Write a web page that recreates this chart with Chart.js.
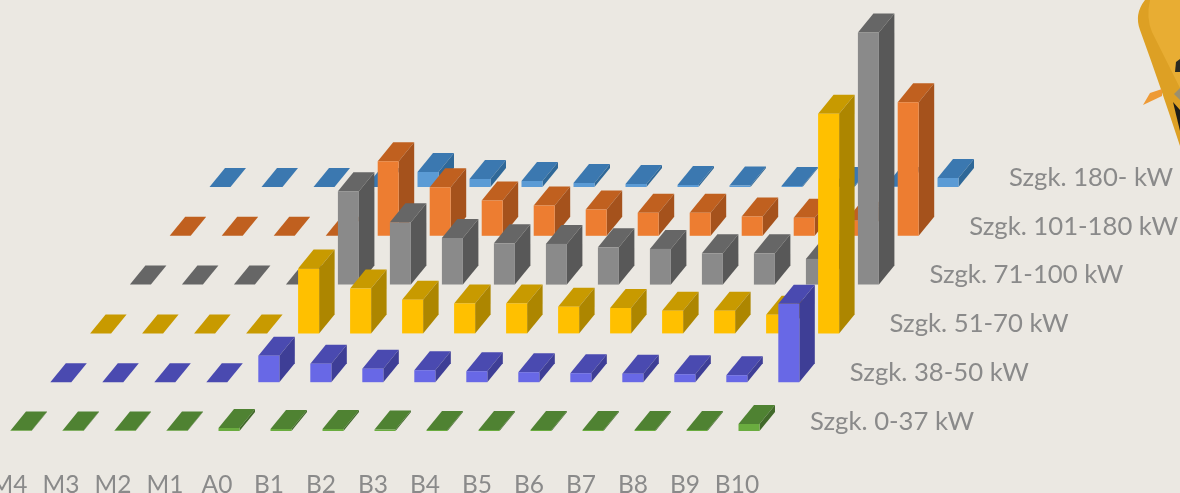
<!DOCTYPE html>
<html>
<head>
<meta charset="utf-8">
<style>
html,body{margin:0;padding:0;width:1180px;height:493px;overflow:hidden;background:#EBE8E2}
#wrap{position:absolute;left:-100px;top:0;width:1400px;height:493px;filter:blur(0.45px)}
</style>
<script src="https://cdn.jsdelivr.net/npm/chart.js@4/dist/chart.umd.min.js"></script>
</head>
<body>
<div id="wrap"><canvas id="c" width="1400" height="493"></canvas></div>
<script>
const categories = ["M4","M3","M2","M1","A0","B1","B2","B3","B4","B5","B6","B7","B8","B9","B10"];
const seriesNames = ["Szgk. 0-37 kW","Szgk. 38-50 kW","Szgk. 51-70 kW","Szgk. 71-100 kW","Szgk. 101-180 kW","Szgk. 180- kW"];
const s0_37    = [0.5,0.5,0.5,0.5,3,2,2,1.5,1,1,1,1,1,1,7];
const s38_50   = [0,0,0,0,26.5,18.5,13.5,12,11,10,9,8.5,8,7,78.5];
const s51_70   = [0,0,0,0,65,45,33.7,30,30,26.7,25.4,22.7,22.7,18.7,219.7];
const s71_100  = [0,0,0,0,93.3,62.3,46.7,41.3,40.7,37.3,35.7,31.3,31.3,25.7,252];
const s101_180 = [0,0,0,0,74.6,48.6,35.3,30.3,26.3,23,23,19.3,18,15,133.6];
const s180     = [0,0,0,0,15,8,6,4,3,2,1.5,1,1,1,9];
const seriesValues = [s0_37,s38_50,s51_70,s71_100,s101_180,s180];
// face colours: front, top, side
const palette = [
  ["#6AAC3F","#4F8232","#41692A"],
  ["#6868E6","#4A4AB0","#3E3E96"],
  ["#FFC000","#C89A00","#AD8600"],
  ["#8A8A8A","#666666","#585858"],
  ["#ED7D31","#C0601F","#A5521C"],
  ["#5B9BD5","#3B78B0","#2F6898"]
];
const ROW_DX = 39.8, ROW_DY = 48.8, DEPTH_X = 15.5, DEPTH_Y = 19;
const TEXT = "#8A8A8A", FONT = "Lato, 'Open Sans', sans-serif";

function poly(ctx, pts, fill){
  ctx.beginPath();
  pts.forEach((p,i)=> i ? ctx.lineTo(p[0],p[1]) : ctx.moveTo(p[0],p[1]));
  ctx.closePath();
  ctx.fillStyle = fill;
  ctx.fill();
}

const bars3d = {
  id:"bars3d",
  beforeDraw(chart){
    // decorative mascot cut off by the top right corner of the slide
    const ctx = chart.ctx;
    ctx.save();
    ctx.translate(100,0);
    ctx.beginPath();
    ctx.moveTo(1145,0);ctx.lineTo(1180,0);ctx.lineTo(1180,146);
    ctx.quadraticCurveTo(1160,85,1140,30);ctx.quadraticCurveTo(1134,14,1145,0);
    ctx.closePath();ctx.fillStyle="#DDA024";ctx.fill();
    ctx.beginPath();
    ctx.moveTo(1150,0);ctx.quadraticCurveTo(1146,18,1152,32);ctx.lineTo(1180,88);ctx.lineTo(1180,0);
    ctx.closePath();ctx.fillStyle="#E8AD33";ctx.fill();
    poly(ctx,[[1143,105],[1150,93],[1162,89],[1162,96]],"#EE9A35");
    poly(ctx,[[1175,72],[1176,62],[1180,59],[1180,72]],"#2A2A22");
    poly(ctx,[[1173,102],[1180,110],[1180,131]],"#1C1C18");
    poly(ctx,[[1174,94],[1180,88],[1180,100]],"#9A8F70");
    ctx.restore();
  },
  beforeDatasetDraw(chart,args){
    const i = args.index, meta = args.meta, ctx = chart.ctx, c = palette[i];
    ctx.save();
    ctx.translate(ROW_DX*i, -ROW_DY*i);
    meta.data.forEach(el=>{
      const p = el.getProps(["x","y","base","width"],true);
      const l = p.x-p.width/2, r = p.x+p.width/2, t = p.y, b = p.base;
      poly(ctx,[[l,t],[r,t],[r+DEPTH_X,t-DEPTH_Y],[l+DEPTH_X,t-DEPTH_Y]],c[1]);
      poly(ctx,[[r,t],[r,b],[r+DEPTH_X,b-DEPTH_Y],[r+DEPTH_X,t-DEPTH_Y]],c[2]);
      if(b-t>0) poly(ctx,[[l,t],[r,t],[r,b],[l,b]],c[0]);
    });
    ctx.restore();
    return false;
  },
  afterDatasetsDraw(chart){
    const ctx = chart.ctx, xs = chart.scales.x, ys = chart.scales.y;
    const lastX = xs.getPixelForValue(categories.length-1), zero = ys.getPixelForValue(0);
    ctx.save();
    ctx.font = "25.7px "+FONT;
    ctx.fillStyle = TEXT;
    ctx.textAlign = "left";
    ctx.textBaseline = "middle";
    seriesNames.forEach((name,i)=>{
      ctx.fillText(name, lastX+61+ROW_DX*i, zero-9.5-ROW_DY*i);
    });
    ctx.restore();
  }
};

new Chart(document.getElementById("c"),{
  type:"bar",
  data:{
    labels:categories,
    datasets:seriesValues.map((v,i)=>({
      label:seriesNames[i],
      data:v,
      backgroundColor:palette[i][0],
      grouped:false,
      barPercentage:1,
      categoryPercentage:21/52
    }))
  },
  options:{
    responsive:false,
    animation:false,
    devicePixelRatio:1,
    layout:{padding:{left:95,right:525,top:0,bottom:0}},
    plugins:{legend:{display:false},tooltip:{enabled:false}},
    scales:{
      x:{
        grid:{display:false,drawTicks:false},
        border:{display:false},
        afterFit(s){s.height=62;},
        ticks:{
          autoSkip:false,maxRotation:0,minRotation:0,
          color:TEXT,font:{family:FONT,size:24.5},
          labelOffset:-12,padding:39
        }
      },
      y:{display:false,min:0,max:431}
    }
  },
  plugins:[bars3d]
});
</script>
</body>
</html>
